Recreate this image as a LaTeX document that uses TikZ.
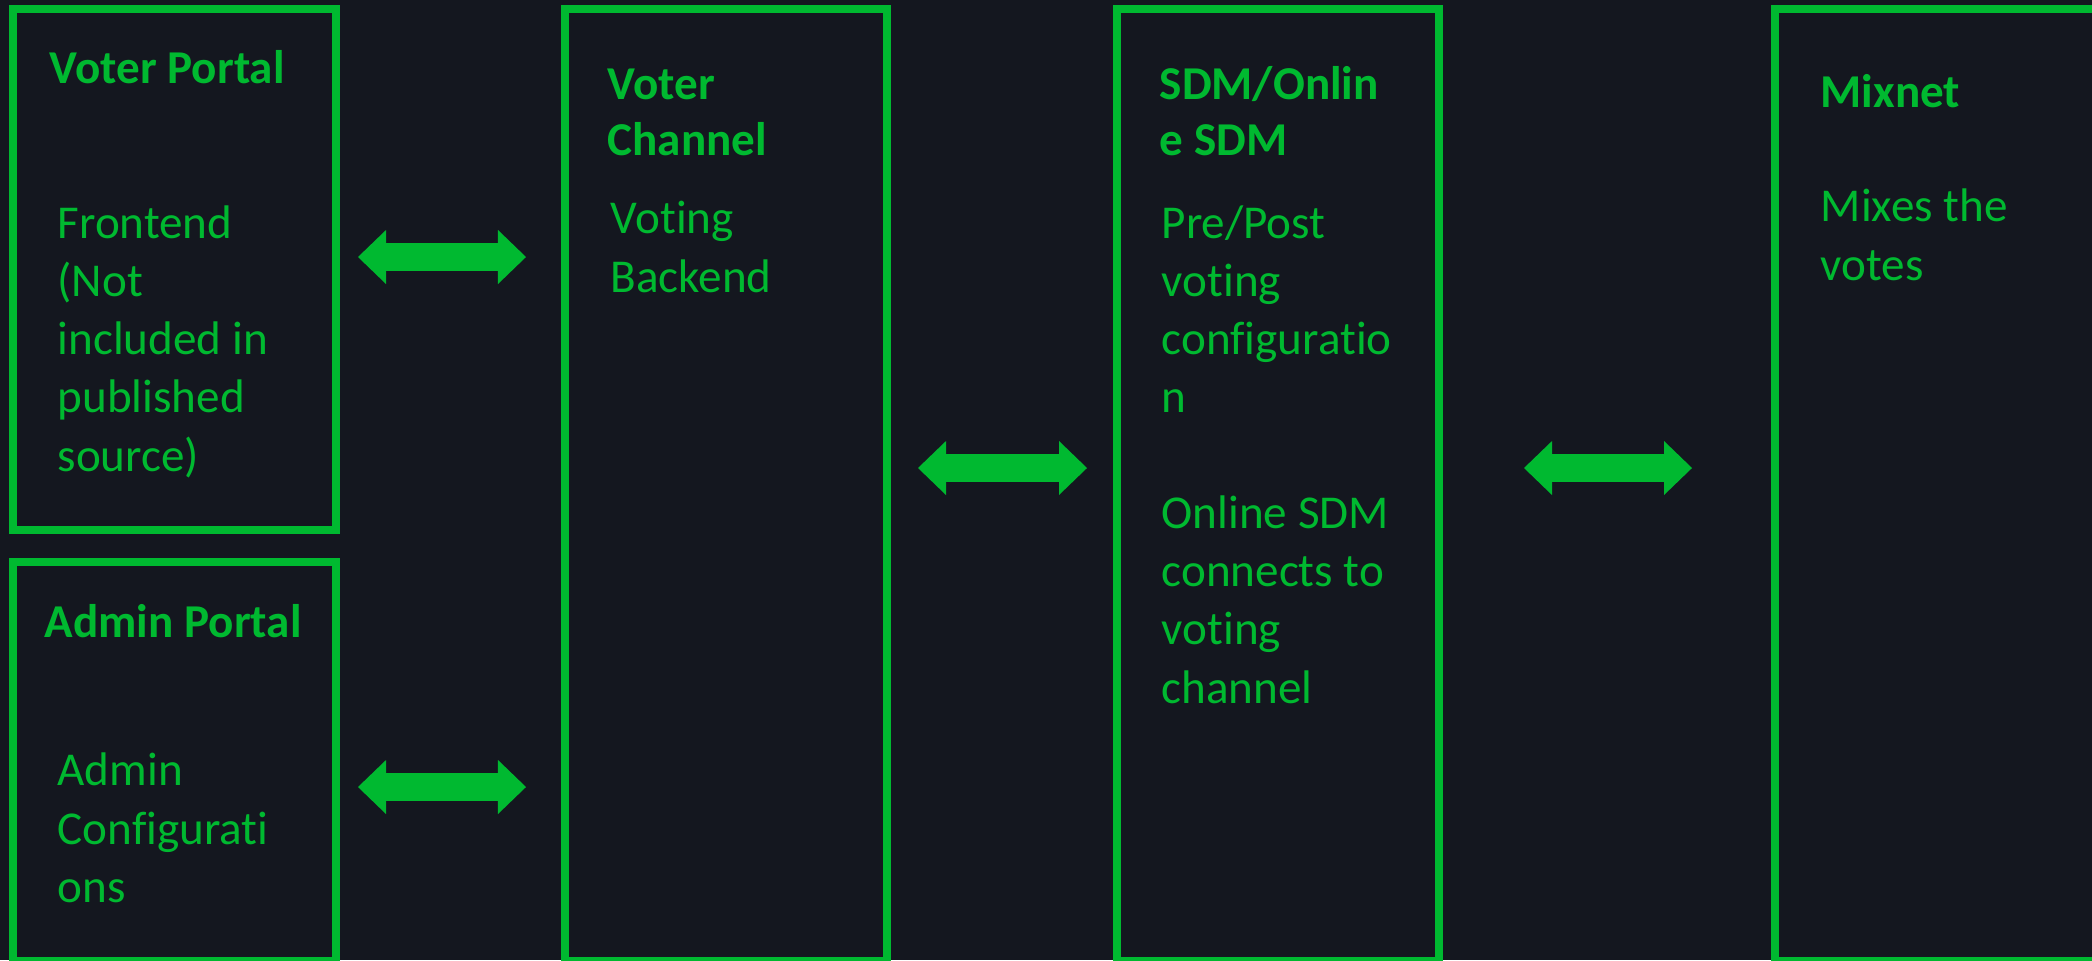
\documentclass[tikz,border=0pt]{standalone}
\usepackage{fontspec}
\setmainfont[Ligatures=NoCommon]{Carlito}
\usetikzlibrary{arrows.meta}

\definecolor{bgdark}{HTML}{14171F}
\definecolor{termgreen}{HTML}{00B930}

\tikzset{
  portal/.style={draw=termgreen, line width=0.08cm, rectangle, inner sep=0pt},
  title/.style={anchor=base west, inner sep=0pt, align=left, text=termgreen,
    font=\fontsize{13.4pt}{15.9pt}\selectfont\bfseries},
  body/.style={anchor=base west, inner sep=0pt, align=left, text=termgreen,
    font=\fontsize{13.4pt}{16.5pt}\selectfont},
  link/.style={termgreen, line width=0.28cm,
    {Triangle[length=0.28cm,width=0.54cm,line width=0pt]}-{Triangle[length=0.28cm,width=0.54cm,line width=0pt]}},
}

\begin{document}
\begin{tikzpicture}[x=0.01cm, y=-0.01cm]
        \fill[bgdark] (0,0) rectangle (2092,960);
        \useasboundingbox (0,0) rectangle (2092,960);

        % boxes
        \node[portal, minimum width=3.225cm, minimum height=5.21cm] (vp) at (174.25,269.5) {};
        \node[portal, minimum width=3.225cm, minimum height=3.99cm] (ap) at (174.25,761.5) {};
        \node[portal, minimum width=3.22cm, minimum height=9.52cm] (vc) at (726,485) {};
        \node[portal, minimum width=3.22cm, minimum height=9.52cm] (sdm) at (1278,485) {};
        \node[portal, minimum width=3.35cm, minimum height=9.52cm] (mix) at (1942.5,485) {};

        % texts (base = baseline of the last line)
        \node[title] (vp-t) at (49,83) {Voter Portal};
        \node[body] (vp-b) at (57,471) {Frontend\\(Not\\included in\\published\\source)};
        \node[title] (ap-t) at (44,637) {Admin Portal};
        \node[body] (ap-b) at (57,902) {Admin\\Configurati\\ons};
        \node[title] (vc-t) at (607,155) {Voter\\Channel};
        \node[body] (vc-b) at (610,292) {Voting\\Backend};
        \node[title] (sdm-t) at (1159,155) {SDM/Onlin\\e SDM};
        \node[body] (sdm-b) at (1161,703) {Pre/Post\\voting\\configuratio\\n\\[16.5pt]Online SDM\\connects to\\voting\\channel};
        \node[title] (mix-t) at (1820,107) {Mixnet};
        \node[body] (mix-b) at (1820,280) {Mixes the\\votes};

        % links
        \coordinate (vp-e) at (358,257);
        \coordinate (vc-w1) at (526,257);
        \coordinate (ap-e) at (358,787);
        \coordinate (vc-w2) at (526,787);
        \coordinate (vc-e) at (918,468);
        \coordinate (sdm-w) at (1087,468);
        \coordinate (sdm-e) at (1524,468);
        \coordinate (mix-w) at (1692,468);

        \draw[link] (vp-e) -- (vc-w1);
        \draw[link] (ap-e) -- (vc-w2);
        \draw[link] (vc-e) -- (sdm-w);
        \draw[link] (sdm-e) -- (mix-w);
\end{tikzpicture}
\end{document}
